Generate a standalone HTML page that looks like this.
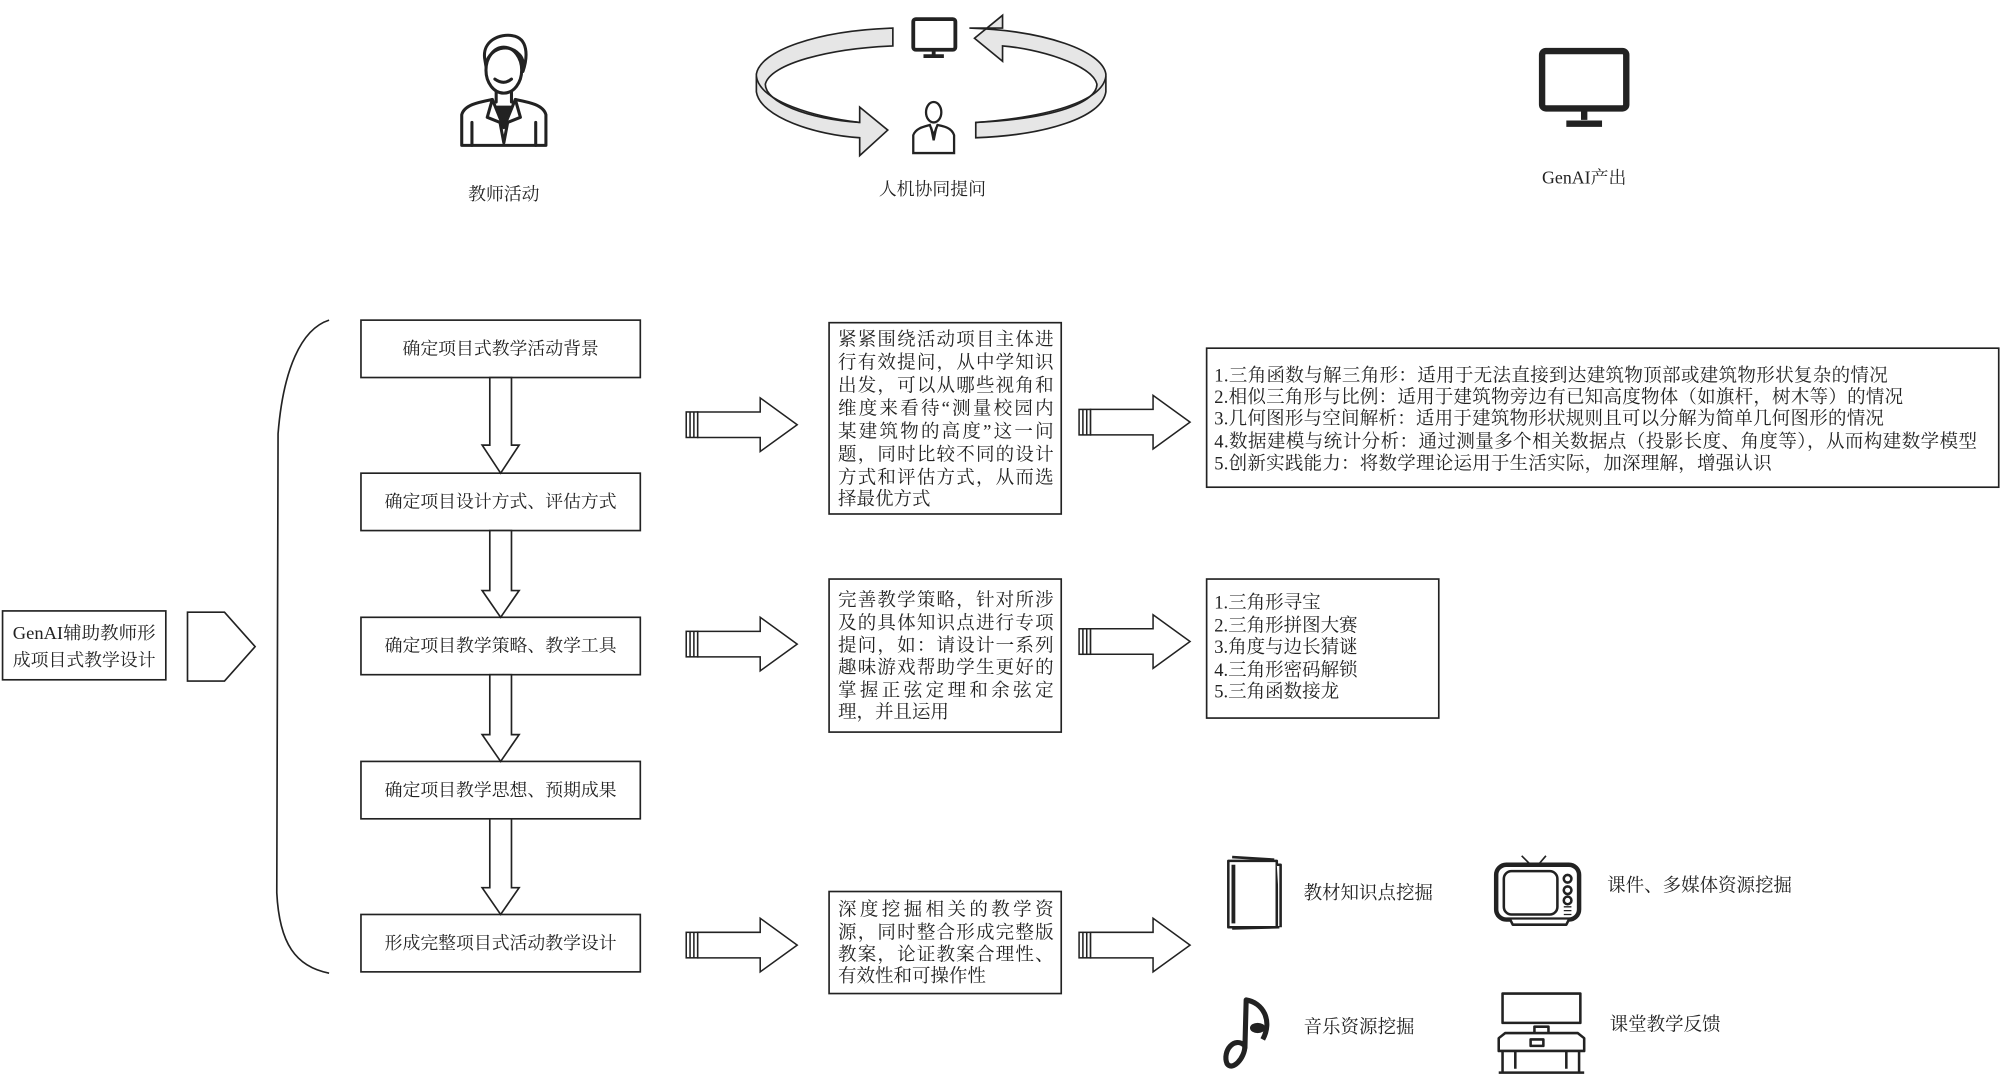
<!DOCTYPE html>
<html><head><meta charset="utf-8"><style>
html,body{margin:0;padding:0;background:#fff;}
svg{display:block;}
text{font-family:"Liberation Serif","Noto Serif CJK SC",serif;fill:#222;}
</style></head><body>
<svg width="2000" height="1079" viewBox="0 0 1568 846" preserveAspectRatio="none" xmlns="http://www.w3.org/2000/svg">
<rect width="1568" height="846" fill="#fff"/>
<g stroke="#222" fill="none" stroke-width="1.3">
<!-- teacher icon -->
<g stroke-width="2.4" stroke-linecap="round" stroke-linejoin="round">
<path d="M380,46 C378,32 392,26 402,28 C414,30 414,44 410,56 C412,40 402,38 392,42 C386,46 384,52 382,58 Z" fill="#fff"/>
<ellipse cx="395" cy="55" rx="14" ry="18" fill="#fff"/>
<path d="M381,50 C384,36 404,32 410,48"/>
<path d="M388,62 Q395,67 401,62"/>
<path d="M389,72 L389,80 M401,72 L401,80"/>
<path d="M362,114 L362,90 C364,82 376,80 386,78 L395,100 L404,78 C414,80 426,82 428,90 L428,114 Z" fill="#fff"/>
<path d="M386,78 L382,92 L392,96 L395,112 L398,96 L408,92 L404,78"/>
<path d="M390,84 L395,100 L400,84 Z" fill="#222"/>
<path d="M370,96 L370,114 M420,96 L420,114"/>
</g>
<!-- cycle -->
<path d="M700,22 C640,24 596,40 593,58 L593,72 C596,92 640,106 674,108 L674,122 L696,102 L674,84 L674,96 C632,93 600,80 600,66 C604,50 650,38 700,36 Z" fill="#e6e6e6"/>
<path d="M593,60 C596,80 640,92 674,96" />
<path d="M760,22 C820,24 864,40 867,58 L867,72 C864,92 820,106 765,108 L765,96 C828,93 860,80 860,66 C856,50 812,38 786,36 L786,48 L764,30 L786,12 L786,22 Z" fill="#e6e6e6"/>
<path d="M867,60 C864,80 820,92 765,96"/>
<g stroke-width="1.8">
<rect x="716" y="15" width="33" height="24" rx="2" fill="#fff" stroke-width="3"/>
<path d="M732,39 L732,43 M724,44 L740,44" stroke-width="3"/>
<ellipse cx="732" cy="88" rx="6" ry="8" fill="#fff"/>
<path d="M716,120 L716,106 C718,100 726,99 729,98 L732,106 L735,98 C740,99 746,100 748,106 L748,120 Z" fill="#fff"/>
<path d="M730,100 L732,110 L734,100" />
</g>
<!-- GenAI monitor -->
<rect x="1209" y="40" width="66" height="45" rx="3" fill="#fff" stroke-width="5"/>
<path d="M1242,85 L1242,94 M1228,97 L1256,97" stroke-width="5"/>
</g>
<g font-size="14">
<text x="395" y="157" text-anchor="middle">教师活动</text>
<text x="731" y="153" text-anchor="middle">人机协同提问</text>
<text x="1242" y="144" text-anchor="middle">GenAI产出</text>
</g>

<g stroke="#222" fill="#fff" stroke-width="1.3">
<!-- left box -->
<rect x="2" y="479" width="128" height="54"/>
<path d="M147,480 L176,480 L200,507 L176,534 L147,534 Z"/>
<!-- brace -->
<path d="M258,251 C236,258 222,290 218,340 L217,700 C219,740 232,758 258,763" fill="none"/>
<!-- step boxes -->
<rect x="283" y="251" width="219" height="45"/>
<rect x="283" y="371" width="219" height="45"/>
<rect x="283" y="484" width="219" height="45"/>
<rect x="283" y="597" width="219" height="45"/>
<rect x="283" y="717" width="219" height="45"/>
<!-- down arrows -->
<path d="M384,296 L401,296 L401,349 L407,349 L392.5,371 L378,349 L384,349 Z"/>
<path d="M384,416 L401,416 L401,463 L407,463 L392.5,484 L378,463 L384,463 Z"/>
<path d="M384,529 L401,529 L401,576 L407,576 L392.5,597 L378,576 L384,576 Z"/>
<path d="M384,642 L401,642 L401,696 L407,696 L392.5,717 L378,696 L384,696 Z"/>
<!-- middle boxes -->
<rect x="650" y="253" width="182" height="150"/>
<rect x="650" y="454" width="182" height="120"/>
<rect x="650" y="699" width="182" height="80"/>
<!-- right boxes -->
<rect x="946" y="273" width="621" height="109"/>
<rect x="946" y="454" width="182" height="109"/>
</g>
<!-- block arrows -->
<g stroke="#222" fill="#fff" stroke-width="1.2">
<g id="ba">
<rect x="538" y="323" width="9" height="20"/>
<path d="M541,323 L541,343 M544,323 L544,343"/>
<path d="M547,323 L596,323 L596,312 L625,333 L596,354 L596,343 L547,343 Z"/>
</g>
<use href="#ba" x="0" y="172"/>
<use href="#ba" x="0" y="408"/>
<use href="#ba" x="308" y="-2"/>
<use href="#ba" x="308" y="170"/>
<use href="#ba" x="308" y="408"/>
</g>

<g font-size="14">
<text x="66" y="501" text-anchor="middle" textLength="112" lengthAdjust="spacingAndGlyphs">GenAI辅助教师形</text>
<text x="66" y="522" text-anchor="middle">成项目式教学设计</text>
<text x="392.5" y="278" text-anchor="middle">确定项目式教学活动背景</text>
<text x="392.5" y="398" text-anchor="middle">确定项目设计方式、评估方式</text>
<text x="392.5" y="511" text-anchor="middle">确定项目教学策略、教学工具</text>
<text x="392.5" y="624" text-anchor="middle">确定项目教学思想、预期成果</text>
<text x="392.5" y="744" text-anchor="middle">形成完整项目式活动教学设计</text>
</g>
<g font-size="14.5">
<text x="657" y="271" textLength="169" lengthAdjust="spacing">紧紧围绕活动项目主体进</text>
<text x="657" y="289" textLength="169" lengthAdjust="spacing">行有效提问，从中学知识</text>
<text x="657" y="307" textLength="169" lengthAdjust="spacing">出发，可以从哪些视角和</text>
<text x="657" y="325" textLength="169" lengthAdjust="spacing">维度来看待“测量校园内</text>
<text x="657" y="343" textLength="169" lengthAdjust="spacing">某建筑物的高度”这一问</text>
<text x="657" y="361" textLength="169" lengthAdjust="spacing">题，同时比较不同的设计</text>
<text x="657" y="379" textLength="169" lengthAdjust="spacing">方式和评估方式，从而选</text>
<text x="657" y="396">择最优方式</text>

<text x="657" y="475" textLength="169" lengthAdjust="spacing">完善教学策略，针对所涉</text>
<text x="657" y="493" textLength="169" lengthAdjust="spacing">及的具体知识点进行专项</text>
<text x="657" y="511" textLength="169" lengthAdjust="spacing">提问，如：请设计一系列</text>
<text x="657" y="528" textLength="169" lengthAdjust="spacing">趣味游戏帮助学生更好的</text>
<text x="657" y="546" textLength="169" lengthAdjust="spacing">掌握正弦定理和余弦定</text>
<text x="657" y="563">理，并且运用</text>

<text x="657" y="718" textLength="169" lengthAdjust="spacing">深度挖掘相关的教学资</text>
<text x="657" y="736" textLength="169" lengthAdjust="spacing">源，同时整合形成完整版</text>
<text x="657" y="753" textLength="169" lengthAdjust="spacing">教案，论证教案合理性、</text>
<text x="657" y="770">有效性和可操作性</text>

<text x="952" y="299" textLength="528" lengthAdjust="spacing">1.三角函数与解三角形：适用于无法直接到达建筑物顶部或建筑物形状复杂的情况</text>
<text x="952" y="316" textLength="540" lengthAdjust="spacing">2.相似三角形与比例：适用于建筑物旁边有已知高度物体（如旗杆，树木等）的情况</text>
<text x="952" y="333" textLength="525" lengthAdjust="spacing">3.几何图形与空间解析：适用于建筑物形状规则且可以分解为简单几何图形的情况</text>
<text x="952" y="351" textLength="598" lengthAdjust="spacing">4.数据建模与统计分析：通过测量多个相关数据点（投影长度、角度等），从而构建数学模型</text>
<text x="952" y="368" textLength="437" lengthAdjust="spacing">5.创新实践能力：将数学理论运用于生活实际，加深理解，增强认识</text>

<text x="952" y="477">1.三角形寻宝</text>
<text x="952" y="495">2.三角形拼图大赛</text>
<text x="952" y="512">3.角度与边长猜谜</text>
<text x="952" y="530">4.三角形密码解锁</text>
<text x="952" y="547">5.三角函数接龙</text>

<text x="1022" y="705">教材知识点挖掘</text>
<text x="1260" y="699">课件、多媒体资源挖掘</text>
<text x="1022" y="810">音乐资源挖掘</text>
<text x="1262" y="808">课堂教学反馈</text>
</g>

<!-- bottom icons -->
<g stroke="#222" fill="#fff" stroke-width="2" stroke-linejoin="round">
<rect x="963" y="675" width="38" height="52"/>
<path d="M966,672 L999,674 M1001,678 L1004,678 L1004,727 M966,728 L1003,727" />
<path d="M967,678 L967,724" stroke-width="3"/>
<rect x="1173" y="678" width="65" height="43" rx="8" stroke-width="3.5"/>
<rect x="1179" y="683" width="42" height="34" rx="6" stroke-width="2"/>
<circle cx="1229" cy="689" r="3"/><circle cx="1229" cy="698" r="3"/><circle cx="1229" cy="706" r="3"/>
<path d="M1226,711 L1232,711 M1226,714 L1232,714 M1226,717 L1232,717" stroke-width="1"/>
<path d="M1184,721 L1186,725 L1228,725 L1230,721"/>
<path d="M1200,678 L1193,671 M1206,678 L1212,671" stroke-width="1.3"/>
<path d="M976,822 L977,784 C990,786 998,800 990,815" fill="none" stroke-width="4"/>
<path d="M976,820 C968,812 958,824 962,834 C966,840 976,830 976,820 Z" fill="none" stroke-width="4"/>
<ellipse cx="986" cy="806" rx="5" ry="3" fill="#222"/>
<rect x="1178" y="779" width="61" height="23"/>
<rect x="1203" y="805" width="11" height="8"/>
<path d="M1175,814 L1180,810 L1237,810 L1242,814 L1242,824 L1175,824 Z"/>
<rect x="1200" y="815" width="10" height="5"/>
<path d="M1178,824 L1178,840 M1238,824 L1238,840 M1175,841 L1242,841 M1188,824 L1188,838 M1228,824 L1228,838" />
</g>
</svg>
</body></html>
